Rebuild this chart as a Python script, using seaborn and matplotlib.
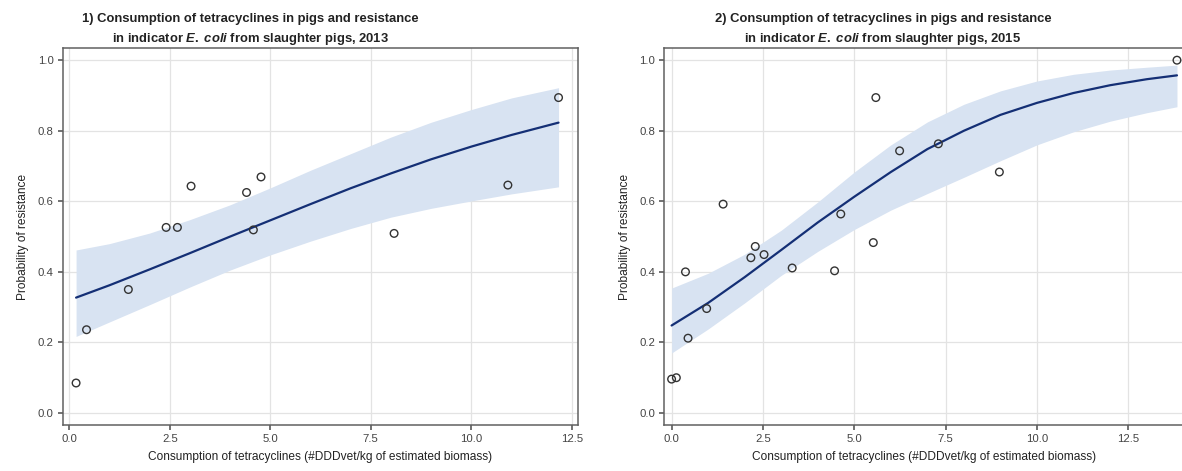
import matplotlib
matplotlib.use("Agg")
import matplotlib.pyplot as plt
import pandas as pd
import seaborn as sns

# 2013 observations
x_2013 = [0.17, 0.43, 1.47, 2.41, 2.69, 3.03, 4.41, 4.77, 4.58, 8.08, 10.91, 12.17]
y_2013 = [0.085, 0.236, 0.350, 0.526, 0.526, 0.643, 0.625, 0.669, 0.519, 0.509, 0.646, 0.894]

# 2013 fitted curve and confidence band
fit_x_2013 = [0.17, 1, 2, 3, 4, 5, 6, 7, 8, 9, 10, 11, 12.17]
fit_y_2013 = [0.327, 0.362, 0.407, 0.453, 0.500, 0.546, 0.592, 0.637, 0.679, 0.719, 0.755, 0.788, 0.823]
fit_lo_2013 = [0.217, 0.258, 0.307, 0.357, 0.405, 0.448, 0.487, 0.523, 0.555, 0.580, 0.601, 0.621, 0.641]
fit_hi_2013 = [0.462, 0.480, 0.510, 0.548, 0.590, 0.638, 0.688, 0.735, 0.782, 0.824, 0.860, 0.893, 0.922]

# 2015 observations
x_2015 = [0.00, 0.13, 0.38, 0.45, 0.96, 1.41, 2.17, 2.29, 2.53, 3.30, 4.46, 4.63,
          5.52, 5.59, 6.24, 7.30, 8.97, 13.83]
y_2015 = [0.096, 0.100, 0.400, 0.212, 0.296, 0.592, 0.440, 0.472, 0.449, 0.411, 0.403, 0.564,
          0.483, 0.894, 0.743, 0.763, 0.683, 1.000]

# 2015 fitted curve and confidence band
fit_x_2015 = [0, 1, 2, 3, 4, 5, 6, 7, 8, 9, 10, 11, 12, 13, 13.83]
fit_y_2015 = [0.248, 0.312, 0.385, 0.462, 0.540, 0.613, 0.683, 0.748, 0.800, 0.845, 0.879, 0.907, 0.929, 0.946, 0.957]
fit_lo_2015 = [0.170, 0.238, 0.312, 0.390, 0.458, 0.520, 0.575, 0.622, 0.668, 0.715, 0.760, 0.797, 0.827, 0.851, 0.868]
fit_hi_2015 = [0.354, 0.396, 0.450, 0.518, 0.598, 0.683, 0.760, 0.825, 0.875, 0.913, 0.941, 0.960, 0.972, 0.980, 0.986]

titles = [
    ("1) Consumption of tetracyclines in pigs and resistance\n"
     r"in indicator $\mathit{E.}$ $\mathit{coli}$ from slaughter pigs, 2013"),
    ("2) Consumption of tetracyclines in pigs and resistance\n"
     r"in indicator $\mathit{E.}$ $\mathit{coli}$ from slaughter pigs, 2015"),
]
xlabel = "Consumption of tetracyclines (#DDDvet/kg of estimated biomass)"
ylabel = "Probability of resistance"

sns.set_theme(style="whitegrid", rc={
    "xtick.bottom": True, "ytick.left": True,
    "grid.color": "#e3e3e3", "grid.linewidth": 0.9,
    "axes.edgecolor": "#606060", "axes.linewidth": 1.1,
    "xtick.color": "#606060", "ytick.color": "#606060",
    "xtick.labelcolor": "#444444", "ytick.labelcolor": "#444444",
    "xtick.major.size": 3.5, "ytick.major.size": 3.5,
    "xtick.major.pad": 3, "ytick.major.pad": 3,
})
plt.rcParams["font.family"] = ["Liberation Sans", "DejaVu Sans"]
plt.rcParams["mathtext.fontset"] = "custom"
plt.rcParams["mathtext.it"] = "Liberation Sans:italic:bold"
plt.rcParams["mathtext.rm"] = "Liberation Sans:bold"

LINE = "#142f75"
BAND = "#d8e3f2"

fig = plt.figure(figsize=(11.82, 4.71), dpi=100)
ax1 = fig.add_axes([0.053, 0.0977, 0.436, 0.800])
ax2 = fig.add_axes([0.562, 0.0977, 0.439, 0.800])

panels = [
    (ax1, x_2013, y_2013, fit_x_2013, fit_y_2013, fit_lo_2013, fit_hi_2013, (-0.164, 12.654)),
    (ax2, x_2015, y_2015, fit_x_2015, fit_y_2015, fit_lo_2015, fit_hi_2015, (-0.2, 14.0)),
]
xt = [0, 2.5, 5, 7.5, 10, 12.5]
yt = [0, 0.2, 0.4, 0.6, 0.8, 1.0]

for ax, xs, ys, fx, fy, flo, fhi, xlim in panels:
    obs = pd.DataFrame({"x": xs, "y": ys})
    fit = pd.DataFrame({"x": fx, "y": fy, "lo": flo, "hi": fhi})
    ax.fill_between(fit["x"], fit["lo"], fit["hi"], color=BAND, linewidth=0, zorder=1)
    sns.lineplot(data=fit, x="x", y="y", ax=ax, color=LINE, linewidth=1.6, zorder=3)
    sns.scatterplot(data=obs, x="x", y="y", ax=ax, marker="o", s=30,
                    facecolor="none", edgecolor="#333333", linewidth=1.0, zorder=4)
    ax.set_xlim(*xlim)
    ax.set_ylim(-0.034, 1.034)
    ax.set_xticks(xt)
    ax.set_xticklabels([f"{v:.1f}" for v in xt], fontsize=8.2)
    ax.set_yticks(yt)
    ax.set_yticklabels([f"{v:.1f}" for v in yt], fontsize=8.2)
    ax.set_xlabel(xlabel, fontsize=8.6, color="#222222", labelpad=5)
    ax.set_ylabel(ylabel, fontsize=8.6, color="#222222", labelpad=6)

for xpos, title in zip([0.2115, 0.747], titles):
    fig.text(xpos, 0.936, title, ha="center", va="center", fontsize=9.4,
             fontweight="bold", color="#222222", linespacing=1.5)

fig.savefig("out.png", dpi=100)
